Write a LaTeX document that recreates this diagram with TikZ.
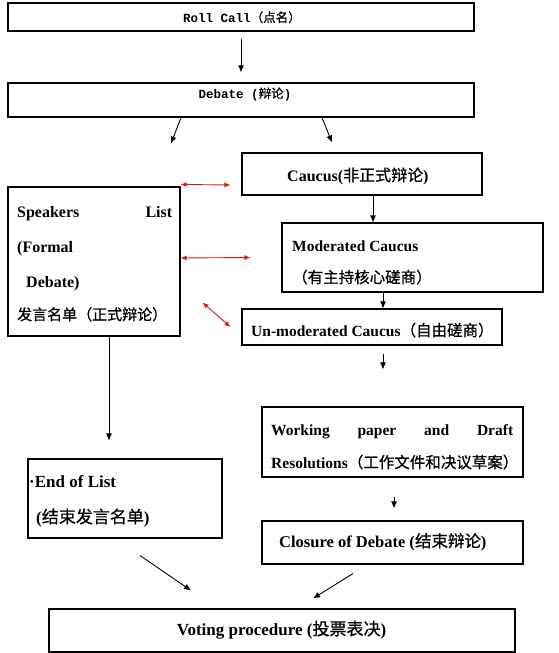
\documentclass[tikz,border=0pt]{standalone}
\usepackage{fontspec}
\setmainfont{Liberation Serif}
\setmonofont{Liberation Mono}
\newfontfamily\cjk[FakeBold=0.8]{Noto Sans CJK SC}
\usepackage{xcolor}
\usetikzlibrary{arrows.meta}
\definecolor{linkred}{RGB}{222, 24, 24}
\newcommand{\zh}[1]{{\cjk\mdseries #1}}

\begin{document}
\begin{tikzpicture}[x=1pt, y=-1pt,
    box/.style={draw, line width=1.1pt, inner sep=0pt},
    lbl/.style={inner sep=0pt, font=\bfseries\fontsize{#1}{#1}\selectfont},
    lbl/.default=16,
    mono/.style={inner sep=0pt, font=\ttfamily\bfseries\fontsize{12.5}{14}\selectfont},
    arr/.style={line width=0.9pt, -{Latex[length=7pt, width=6pt]}},
    link/.style={linkred, line width=0.9pt, {Latex[length=6pt, width=5pt]}-{Latex[length=6pt, width=5pt]}}]

  \useasboundingbox (0,0) rectangle (558,653);

  % Roll call and debate
  \node[box, minimum width=466pt, minimum height=28pt] (roll) at (241,17) {};
  \node[mono, anchor=base] (rollT) at (242,22) {Roll Call\zh{（点名）}};
  \node[box, minimum width=466pt, minimum height=34pt] (debate) at (241,100) {};
  \node[mono, anchor=base] (debateT) at (245,98) {Debate (\zh{辩论})};
  \draw[arr] ([yshift=-7pt]roll.south) -- ([yshift=10pt]debate.north);

  % Speakers list (formal debate)
  \node[box, minimum width=172pt, minimum height=149pt] (speak) at (94,261.5) {};
  \node[lbl, anchor=base west] (speakA) at (17,217) {\makebox[155pt][s]{Speakers List}};
  \node[lbl, anchor=base west] (speakB) at (17,252) {(Formal};
  \node[lbl, anchor=base west] (speakC) at (26,287) {Debate)};
  \node[lbl=15, anchor=base west] (speakD) at (17,320) {\zh{发言名单（正式辩论）}};

  % Caucus branch
  \node[box, minimum width=240pt, minimum height=42pt] (caucus) at (362,174) {};
  \node[lbl, anchor=base west] (caucusT) at (287,181) {Caucus(\zh{非正式辩论})};
  \node[box, minimum width=261pt, minimum height=69pt] (mod) at (412.5,257.5) {};
  \node[lbl=15.5, anchor=base west] (modA) at (292,251) {Moderated Caucus};
  \node[lbl=15.5, anchor=base west] (modB) at (292,283) {\zh{（有主持核心磋商）}};
  \node[box, minimum width=260pt, minimum height=36pt] (unmod) at (372,327) {};
  \node[lbl=15.5, anchor=base west] (unmodT) at (251,336) {Un-moderated Caucus\zh{（自由磋商）}};

  \draw[arr] ([xshift=-60pt]debate.south) -- ([xshift=-70pt,yshift=-26pt]debate.south);
  \draw[arr] ([xshift=81pt]debate.south) -- ([xshift=-30pt,yshift=10pt]caucus.north);
  \coordinate (cm) at ([xshift=11pt]caucus.south);
  \draw[arr] (cm) -- (cm |- mod.north);
  \coordinate (mu) at ([xshift=-29.5pt]mod.south);
  \draw[arr] (mu) -- (mu |- unmod.north);

  % red links between formal and informal debate
  \draw[link] ([yshift=2pt]speak.north east) -- ([xshift=-11pt,yshift=-11pt]caucus.west);
  \draw[link] ([yshift=3.5pt]speak.east) -- ([xshift=-31pt]mod.west);
  \draw[link] ([xshift=22pt,yshift=34pt]speak.south east) -- ([xshift=-11pt]unmod.west);

  % Working paper and closure
  \node[box, minimum width=261pt, minimum height=70pt] (work) at (392.5,442) {};
  \node[lbl=15.5, anchor=base west] (workA) at (271,435) {\makebox[242pt][s]{Working paper and Draft}};
  \node[lbl=15.5, anchor=base west] (workB) at (271,468) {Resolutions\zh{（工作文件和决议草案）}};
  \node[box, minimum width=261pt, minimum height=43pt] (closure) at (392.5,542.5) {};
  \node[lbl=16.5, anchor=base west] (closureT) at (279,547) {Closure of Debate (\zh{结束辩论})};
  \coordinate (uw) at ([xshift=11pt]unmod.south);
  \draw[arr, shorten <=8pt, shorten >=37pt] (uw) -- (uw |- work.north);
  \coordinate (wc) at ([xshift=1.5pt]work.south);
  \draw[arr, shorten <=19pt, shorten >=12pt] (wc) -- (wc |- closure.north);

  % End of list
  \node[box, minimum width=194pt, minimum height=79pt] (endl) at (125,498.5) {};
  \node[lbl=17, anchor=base west] (endlA) at (29,487) {·End of List};
  \node[lbl=17, anchor=base west] (endlB) at (36,523) {(\zh{结束发言名单})};
  \coordinate (se) at ([xshift=15pt]speak.south);
  \draw[arr, shorten >=18pt] (se) -- (se |- endl.north);

  % Voting
  \node[box, minimum width=466pt, minimum height=43pt] (vote) at (282,630.5) {};
  \node[lbl=17, anchor=base] (voteT) at (281.5,635) {Voting procedure (\zh{投票表决})};
  \draw[arr] ([xshift=15pt,yshift=-17pt]endl.south) -- ([xshift=-91pt,yshift=18pt]vote.north);
  \draw[arr] ([xshift=-39.5pt,yshift=-9pt]closure.south) -- ([xshift=31pt,yshift=10pt]vote.north);
\end{tikzpicture}
\end{document}
